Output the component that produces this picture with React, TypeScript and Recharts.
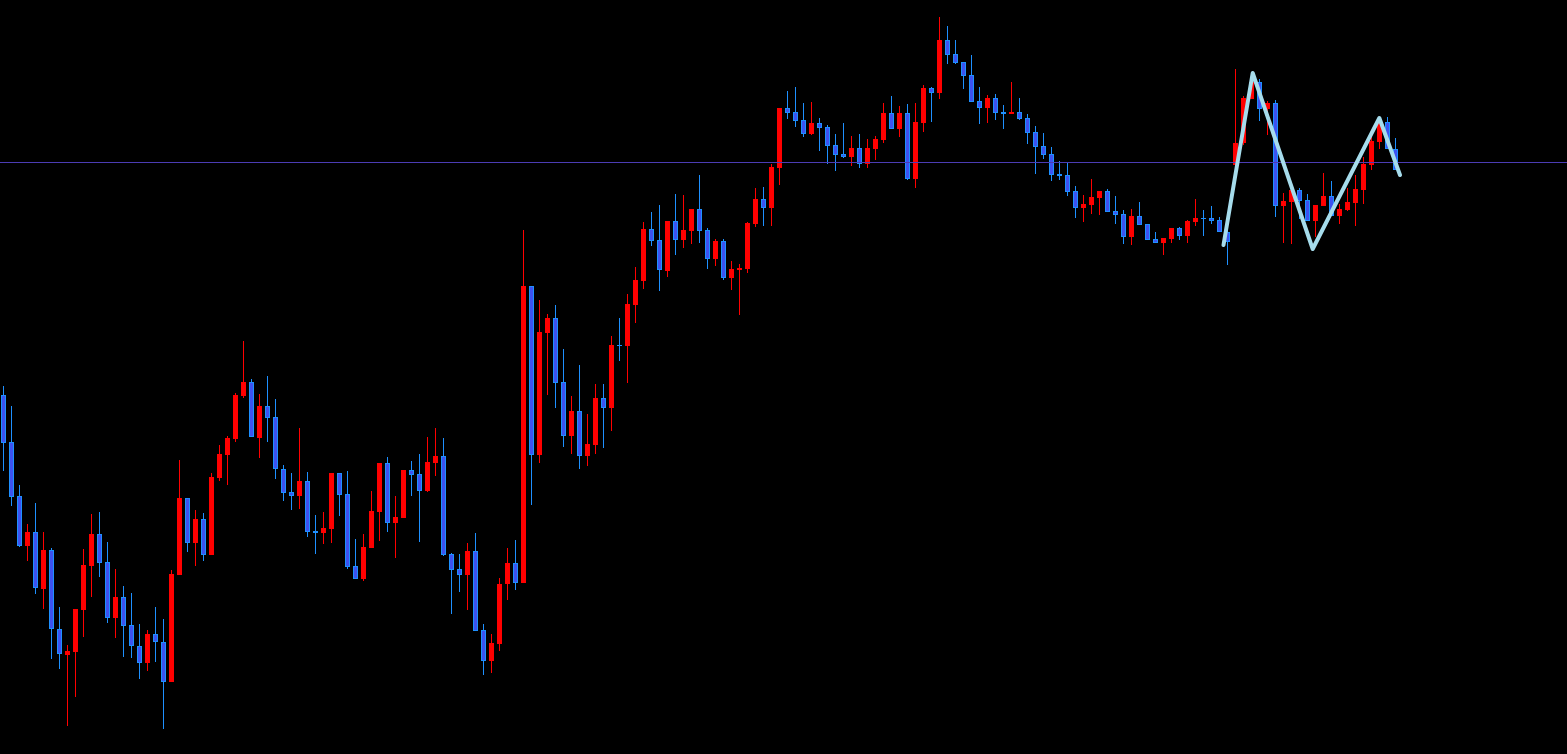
import {
    ComposedChart,
    Bar,
    Line,
    XAxis,
    YAxis,
    ReferenceLine,
} from "recharts"

// price in points, one entry per bar (oldest first)
const opens = [
    359, 312, 258, 208, 222, 165, 204, 125, 99, 102,
    144, 188, 220, 192, 136, 157, 129, 108, 91, 120,
    112, 72, 179, 256, 211, 235, 199, 276, 299, 315,
    358, 372, 316, 348, 337, 285, 262, 258, 273, 223,
    221, 225, 281, 260, 188, 175, 206, 242, 291, 231,
    236, 284, 280, 263, 291, 298, 200, 185, 179, 203,
    124, 93, 110, 170, 191, 171, 468, 299, 421, 436,
    372, 318, 343, 298, 309, 356, 346, 409, 408, 449,
    473, 525, 514, 483, 533, 514, 523, 545, 524, 495,
    513, 476, 484, 485, 530, 555, 546, 586, 646, 642,
    634, 620, 631, 627, 609, 600, 597, 606, 590, 605,
    614, 641, 625, 641, 575, 631, 666, 661, 714, 700,
    692, 679, 653, 646, 656, 642, 640, 642, 636, 622,
    608, 600, 580, 579, 563, 546, 549, 556, 563, 543,
    540, 517, 538, 530, 515, 511, 515, 526, 518, 532,
    536, 536, 534, 522, 589, 611, 655, 672, 645, 651,
    548, 552, 564, 554, 533, 548, 558, 538, 544, 551,
    564, 589, 612, 632, 605, 591,
]

const highs = [
    368, 348, 269, 230, 251, 222, 206, 147, 109, 145,
    205, 240, 242, 212, 185, 168, 161, 130, 124, 147,
    135, 184, 294, 256, 244, 241, 281, 309, 318, 361,
    413, 375, 360, 378, 355, 289, 281, 326, 282, 239,
    242, 281, 281, 283, 215, 220, 263, 291, 297, 258,
    284, 293, 300, 317, 326, 316, 201, 200, 211, 221,
    130, 120, 176, 206, 214, 524, 468, 454, 440, 449,
    405, 358, 389, 340, 370, 370, 418, 436, 460, 487,
    532, 542, 549, 533, 560, 559, 545, 579, 526, 515,
    515, 493, 490, 532, 566, 567, 590, 646, 663, 667,
    651, 652, 636, 629, 620, 631, 618, 620, 615, 618,
    651, 658, 648, 650, 651, 669, 667, 737, 728, 714,
    692, 699, 667, 659, 660, 649, 672, 656, 640, 628,
    621, 607, 593, 591, 568, 559, 575, 563, 565, 558,
    544, 545, 552, 530, 522, 516, 526, 527, 534, 555,
    544, 548, 537, 524, 685, 658, 681, 675, 653, 654,
    561, 566, 566, 560, 549, 581, 573, 550, 566, 579,
    597, 617, 635, 637, 616, 592,
]

const lows = [
    283, 248, 207, 193, 160, 145, 95, 85, 28, 57,
    117, 157, 177, 131, 116, 97, 96, 75, 83, 92,
    25, 72, 179, 202, 188, 193, 199, 273, 269, 312,
    356, 317, 296, 312, 275, 253, 244, 245, 217, 200,
    210, 211, 238, 185, 175, 173, 206, 213, 222, 196,
    236, 258, 212, 262, 278, 198, 140, 162, 144, 123,
    79, 81, 103, 154, 164, 171, 249, 291, 359, 346,
    307, 300, 285, 288, 300, 306, 323, 393, 371, 431,
    465, 508, 463, 477, 499, 506, 510, 511, 485, 488,
    474, 464, 439, 481, 527, 528, 528, 569, 635, 627,
    617, 619, 603, 590, 583, 596, 588, 586, 586, 594,
    611, 625, 617, 574, 566, 622, 632, 655, 690, 690,
    665, 652, 630, 631, 634, 625, 640, 634, 610, 580,
    595, 573, 574, 558, 536, 532, 540, 539, 542, 530,
    510, 509, 529, 514, 511, 499, 511, 514, 511, 528,
    518, 530, 522, 489, 584, 609, 655, 633, 619, 537,
    511, 510, 535, 533, 517, 548, 538, 530, 543, 528,
    550, 584, 605, 605, 584, 591,
]

const closes = [
    311, 257, 208, 222, 166, 204, 125, 100, 103, 145,
    189, 220, 191, 136, 157, 128, 108, 91, 120, 112,
    72, 180, 256, 211, 235, 199, 277, 300, 316, 359,
    372, 317, 348, 336, 285, 261, 258, 273, 222, 221,
    226, 281, 259, 187, 175, 207, 243, 291, 231, 237,
    284, 279, 263, 292, 298, 199, 184, 179, 203, 123,
    93, 111, 170, 191, 171, 468, 299, 422, 436, 371,
    318, 343, 298, 310, 356, 346, 409, 408, 450, 474,
    525, 513, 484, 533, 514, 524, 545, 523, 495, 513,
    476, 485, 486, 531, 555, 546, 587, 646, 641, 633,
    620, 631, 626, 608, 599, 597, 606, 590, 606, 615,
    641, 625, 641, 575, 632, 666, 661, 714, 699, 691,
    678, 652, 646, 656, 641, 640, 642, 635, 621, 607,
    599, 579, 578, 562, 546, 550, 557, 563, 542, 539,
    517, 538, 529, 514, 511, 516, 526, 518, 533, 536,
    535, 533, 522, 512, 611, 656, 672, 645, 651, 548,
    553, 564, 553, 533, 549, 558, 538, 545, 552, 565,
    590, 613, 631, 605, 584, 592,
]

const bidPrice = 591.5

// zigzag drawn on top (bar index, price)
const zigzagBars = [152.5, 156.15, 163.65, 171.98, 174.56]
const zigzagPrices = [509, 681, 505, 636, 579]

const candles = opens.map((open, i) => ({
    i,
    open,
    high: highs[i],
    low: lows[i],
    close: closes[i],
    range: [lows[i], highs[i]],
}))

const zigzag = zigzagBars.map((i, k) => ({
    i,
    p: zigzagPrices[k],
}))

const BULL = "#ff0000"
const BEAR_EDGE = "#1e90ff"
const BEAR_FILL = "#3d52f0"

function Candle(props: any) {
    const { x, y, width, height, payload } = props
    if (!payload || !height) return null
    const { open, close, high, low } = payload
    const k = height / (high - low)
    const yOf = (v: number) => y + (high - v) * k
    const cx = Math.floor(x + width / 2) + 0.5
    const up = close >= open
    const top = Math.round(yOf(Math.max(open, close)))
    const bottom = Math.round(yOf(Math.min(open, close)))
    const h = Math.max(bottom - top, 1)
    const left = cx - 2.5

    return (
        <g>
            <line
                x1={cx}
                x2={cx}
                y1={y}
                y2={y + height}
                stroke={up ? BULL : BEAR_EDGE}
                strokeWidth={1}
            />
            <rect
                x={left}
                y={top}
                width={5}
                height={h}
                fill={up ? BULL : BEAR_EDGE}
            />
            {!up && h > 2 && (
                <rect
                    x={left + 1}
                    y={top + 1}
                    width={3}
                    height={h - 2}
                    fill={BEAR_FILL}
                />
            )}
        </g>
    )
}

export default function App() {
    return (
        <div
            style={{
                position: "absolute",
                left: 0,
                top: 0,
                width: 1567,
                height: 754,
                background: "#000",
            }}
        >
            <ComposedChart
                width={1567}
                height={754}
                data={candles}
                margin={{ top: 0, right: 0, bottom: 0, left: 0 }}
            >
                <XAxis
                    dataKey="i"
                    type="number"
                    domain={[-0.4375, 195.4375]}
                    allowDataOverflow
                    hide
                />
                <YAxis
                    type="number"
                    domain={[0, 754]}
                    allowDataOverflow
                    hide
                />
                <ReferenceLine
                    y={bidPrice}
                    stroke="#4b3cb4"
                    strokeWidth={1}
                />
                <Bar
                    dataKey="range"
                    barSize={5}
                    shape={<Candle />}
                    isAnimationActive={false}
                />
                <Line
                    data={zigzag}
                    dataKey="p"
                    type="linear"
                    stroke="#a6dcec"
                    strokeWidth={4}
                    strokeLinecap="round"
                    strokeLinejoin="round"
                    dot={false}
                    activeDot={false}
                    isAnimationActive={false}
                />
            </ComposedChart>
        </div>
    )
}
